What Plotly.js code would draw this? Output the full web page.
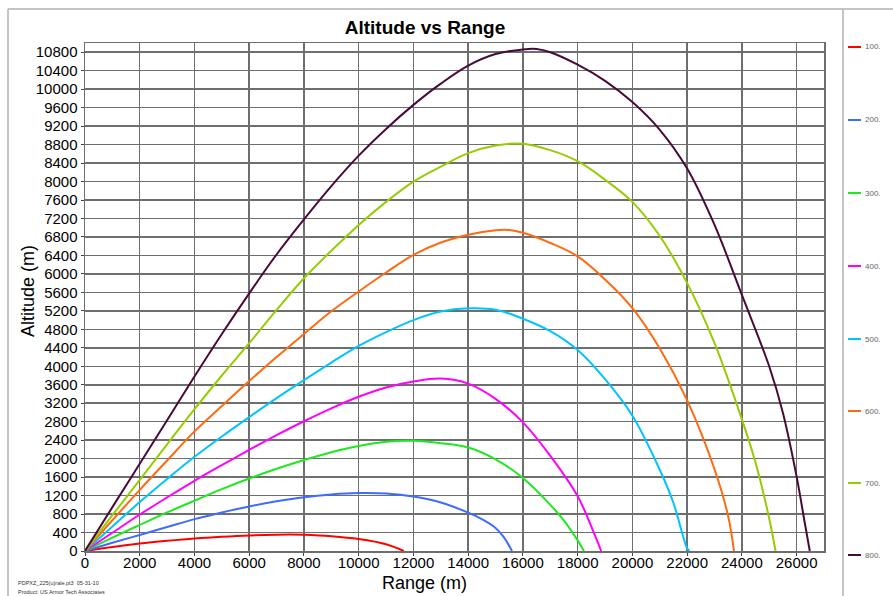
<!DOCTYPE html>
<html>
<head>
<meta charset="utf-8">
<script src="https://cdn.plot.ly/plotly-3.0.1.min.js"></script>
<style>html,body{margin:0;padding:0;background:#fff;}#chart{width:893px;height:596px;}</style>
</head>
<body>
<div id="chart"></div>
<script>
// ---- data ----
const seriesNames = ["100.", "200.", "300.", "400.", "500.", "600.", "700.", "800."];
const seriesColors = ["#ff0000", "#3d6cff", "#1ee81e", "#ff00ff", "#00c3ff", "#ff6a10", "#96cc00", "#4a0a38"];

const range100 = [0, 1000, 2000, 3000, 4000, 5000, 6000, 7000, 7500, 8000, 9000, 10000, 11000, 11650];
const alt100   = [0, 85, 160, 220, 272, 310, 338, 352, 355, 350, 318, 258, 145, 0];

const range200 = [0, 1000, 2000, 3000, 4000, 5000, 6000, 7000, 8000, 9000, 10000, 11000, 12000, 13000, 14000, 14500, 15000, 15300, 15600];
const alt200   = [0, 178, 348, 520, 690, 835, 965, 1075, 1165, 1225, 1255, 1245, 1180, 1050, 830, 690, 500, 300, 0];

const range300 = [0, 1000, 2000, 3000, 4000, 5000, 6000, 7000, 8000, 9000, 10000, 11000, 12000, 13000, 14000, 15000, 16000, 17000, 17500, 18000, 18230];
const alt300   = [0, 290, 565, 835, 1090, 1340, 1570, 1780, 1970, 2140, 2275, 2365, 2385, 2335, 2240, 1985, 1580, 1000, 660, 230, 0];

const range400 = [0, 1000, 2000, 3000, 4000, 5000, 6000, 7000, 8000, 9000, 10000, 11000, 12000, 13000, 14000, 15000, 16000, 17000, 18000, 18500, 18860];
const alt400   = [0, 395, 790, 1160, 1520, 1860, 2190, 2510, 2810, 3090, 3340, 3540, 3670, 3735, 3625, 3295, 2785, 2060, 1185, 530, 0];

const range500 = [0, 1000, 2000, 3000, 4000, 5000, 6000, 7000, 8000, 9000, 10000, 11000, 12000, 13000, 14000, 15000, 16000, 17000, 18000, 19000, 20000, 21000, 21500, 22000, 22090];
const alt500   = [0, 530, 1060, 1560, 2040, 2480, 2900, 3310, 3700, 4080, 4440, 4740, 5000, 5185, 5255, 5225, 5030, 4760, 4350, 3720, 2930, 1760, 1040, 60, 0];

const range600 = [0, 1000, 2000, 3000, 4000, 5000, 6000, 7000, 8000, 9000, 10000, 11000, 12000, 13000, 14000, 15000, 15500, 16000, 17000, 18000, 19000, 20000, 21000, 22000, 23000, 23500, 23710];
const alt600   = [0, 665, 1325, 1960, 2590, 3140, 3680, 4200, 4700, 5190, 5620, 6030, 6410, 6680, 6850, 6945, 6950, 6890, 6670, 6380, 5880, 5260, 4385, 3260, 1770, 750, 0];

const range700 = [0, 1000, 2000, 3000, 4000, 5000, 6000, 7000, 8000, 9000, 10000, 11000, 12000, 13000, 14000, 15000, 16000, 17000, 18000, 19000, 20000, 21000, 22000, 23000, 24000, 24500, 25000, 25230];
const alt700   = [0, 775, 1540, 2310, 3070, 3800, 4500, 5220, 5906, 6500, 7061, 7560, 8000, 8324, 8614, 8780, 8820, 8680, 8440, 8040, 7560, 6820, 5800, 4500, 2850, 1910, 700, 0];

const range800 = [0, 1000, 2000, 3000, 4000, 5000, 6000, 7000, 8000, 9000, 10000, 11000, 12000, 13000, 14000, 15000, 16000, 16500, 17000, 18000, 19000, 20000, 21000, 22000, 23000, 24000, 25000, 25500, 26000, 26300, 26480];
const alt800   = [0, 950, 1890, 2830, 3780, 4700, 5580, 6420, 7180, 7900, 8560, 9140, 9660, 10120, 10510, 10760, 10860, 10870, 10800, 10530, 10180, 9720, 9120, 8280, 7060, 5545, 3995, 2990, 1610, 600, 0];

const xTicks = [0, 2000, 4000, 6000, 8000, 10000, 12000, 14000, 16000, 18000, 20000, 22000, 24000, 26000];
const yTicks = [0, 400, 800, 1200, 1600, 2000, 2400, 2800, 3200, 3600, 4000, 4400, 4800, 5200, 5600, 6000, 6400, 6800, 7200, 7600, 8000, 8400, 8800, 9200, 9600, 10000, 10400, 10800];

const chartTitle = "Altitude vs Range";
const xTitle = "Range (m)";
const yTitle = "Altitude (m)";
const footnote1 = "PDPXZ_225(u)rale.pt3  05-31-10";
const footnote2 = "Product: US Armor Tech Associates";

// ---- chart ----
const rangesList = [range100, range200, range300, range400, range500, range600, range700, range800];
const altsList = [alt100, alt200, alt300, alt400, alt500, alt600, alt700, alt800];

const traces = rangesList.map((xs, i) => ({
  type: "scatter",
  mode: "lines",
  x: xs,
  y: altsList[i],
  name: seriesNames[i],
  line: {color: seriesColors[i], width: 2, shape: "spline", smoothing: 1.0},
  showlegend: false
}));

// pixel -> paper helpers for the decorative frame / legend
const PL = 85, PR = 824, PT = 43, PB = 551;
const px = v => (v - PL) / (PR - PL);
const py = v => (PB - v) / (PB - PT);
const FONT = "Liberation Sans, Arial, sans-serif";

const shapes = [
  {type: "line", xref: "paper", yref: "paper", x0: px(8), x1: px(893), y0: py(9), y1: py(9), line: {color: "#c4c4c4", width: 2}},
  {type: "line", xref: "paper", yref: "paper", x0: px(8), x1: px(8), y0: py(9), y1: py(596), line: {color: "#c4c4c4", width: 2}},
  {type: "line", xref: "paper", yref: "paper", x0: px(843), x1: px(843), y0: py(9), y1: py(596), line: {color: "#c4c4c4", width: 2}}
];
const annotations = [];
const legendY = [47, 120, 193, 266, 339, 411, 483, 555];
seriesNames.forEach((n, i) => {
  shapes.push({type: "line", xref: "paper", yref: "paper", x0: px(848), x1: px(861), y0: py(legendY[i]), y1: py(legendY[i]), line: {color: seriesColors[i], width: 2}});
  annotations.push({xref: "paper", yref: "paper", x: px(863), y: py(legendY[i]), xanchor: "left", yanchor: "middle", text: n, showarrow: false, font: {family: FONT, size: 8, color: "#666"}});
});
annotations.push({xref: "paper", yref: "paper", x: px(16), y: py(583), xanchor: "left", yanchor: "middle", text: footnote1, showarrow: false, font: {family: FONT, size: 5.5, color: "#333"}});
annotations.push({xref: "paper", yref: "paper", x: px(16), y: py(591.5), xanchor: "left", yanchor: "middle", text: footnote2, showarrow: false, font: {family: FONT, size: 5.5, color: "#333"}});
// axis titles
annotations.push({xref: "paper", yref: "paper", x: px(424), y: py(583), xanchor: "center", yanchor: "middle", text: xTitle, showarrow: false, font: {family: FONT, size: 18, color: "#000"}});
annotations.push({xref: "paper", yref: "paper", x: px(28), y: py(291), xanchor: "center", yanchor: "middle", textangle: -90, text: yTitle, showarrow: false, font: {family: FONT, size: 18, color: "#000"}});

const axisCommon = {
  showgrid: true, gridcolor: "#6e6e6e", gridwidth: 1.5,
  showline: true, mirror: true, linecolor: "#6e6e6e", linewidth: 1.5,
  zeroline: false,
  ticks: "outside", ticklen: 3, tickcolor: "#444", tickwidth: 1,
  tickfont: {family: FONT, size: 15, color: "#000"},
  fixedrange: true
};

const layout = {
  width: 893, height: 596,
  margin: {l: PL, r: 893 - PR, t: PT, b: 596 - PB, pad: 0},
  paper_bgcolor: "#ffffff", plot_bgcolor: "#ffffff",
  title: {text: "<b>" + chartTitle + "</b>", x: 425 / 893, xref: "container", xanchor: "center", y: 1 - 27 / 596, yref: "container", yanchor: "middle",
          font: {family: FONT, size: 19, color: "#000"}},
  xaxis: Object.assign({}, axisCommon, {range: [0, 27000], tickvals: xTicks, ticktext: xTicks.map(String), ticklabelstandoff: -6}),
  yaxis: Object.assign({}, axisCommon, {range: [0, 11000], tickvals: yTicks, ticktext: yTicks.map(String)}),
  shapes: shapes,
  annotations: annotations,
  showlegend: false
};

Plotly.newPlot("chart", traces, layout, {displayModeBar: false, staticPlot: true});
</script>
</body>
</html>
